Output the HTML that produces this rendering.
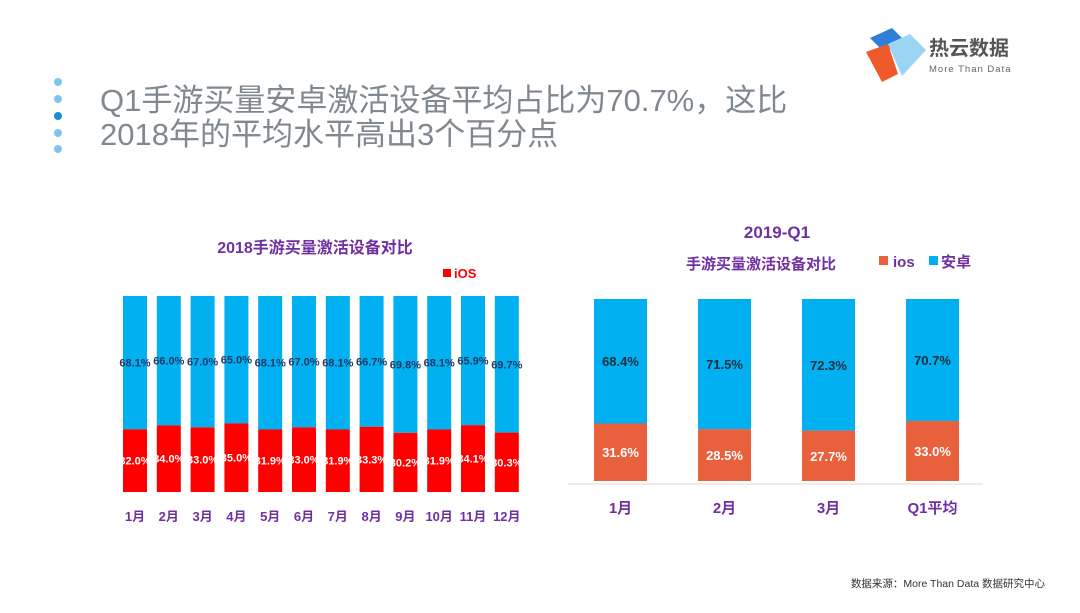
<!DOCTYPE html>
<html><head><meta charset="utf-8"><style>
body{margin:0;width:1080px;height:608px;background:#fff;overflow:hidden;font-family:"Liberation Sans","Noto Sans CJK SC",sans-serif;}
</style></head><body>
<svg width="1080" height="608" xmlns="http://www.w3.org/2000/svg" style="font-family:'Liberation Sans','Noto Sans CJK SC',sans-serif">
<g>
<circle cx="58" cy="82" r="4" fill="#7cc6ee"/><circle cx="58" cy="99" r="4" fill="#7cc6ee"/><circle cx="58" cy="116" r="4" fill="#1a8fd8"/><circle cx="58" cy="133" r="4" fill="#7cc6ee"/><circle cx="58" cy="149" r="4" fill="#7cc6ee"/>
</g>
<text x="100" y="111" font-size="31" fill="#808890">Q1手游买量安卓激活设备平均占比为70.7%，这比</text>
<text x="100" y="145" font-size="31" fill="#808890">2018年的平均水平高出3个百分点</text>
<g>
<polygon points="870,38 892,28 906,42 884,52" fill="#2f7fd6"/>
<polygon points="866,52 888,44 898,74 882,82" fill="#ef5a2a"/>
<polygon points="888,44 910,34 926,50 902,76" fill="#9ad6f4"/>
<text x="929" y="55" font-size="20" font-weight="bold" fill="#555">热云数据</text>
<text x="929" y="72" font-size="9.5" fill="#666" letter-spacing="1">More Than Data</text>
</g>
<text x="1045" y="587" font-size="10.5" fill="#333" text-anchor="end">数据来源：More Than Data 数据研究中心</text>
<g id="left"></g>
<g id="right"></g>
</svg>
<script>
const months2018 = ["1月","2月","3月","4月","5月","6月","7月","8月","9月","10月","11月","12月"];
const ios2018 = [32.0,34.0,33.0,35.0,31.9,33.0,31.9,33.3,30.2,31.9,34.1,30.3];
const android2018 = [68.1,66.0,67.0,65.0,68.1,67.0,68.1,66.7,69.8,68.1,65.9,69.7];
const cats2019 = ["1月","2月","3月","Q1平均"];
const ios2019 = [31.6,28.5,27.7,33.0];
const android2019 = [68.4,71.5,72.3,70.7];
const NS="http://www.w3.org/2000/svg";
function mk(p,tag,at,txt){const e=document.createElementNS(NS,tag);for(const k in at)e.setAttribute(k,at[k]);if(txt!==undefined)e.textContent=txt;p.appendChild(e);return e;}
const P="#7030a0";
const L=document.getElementById('left');
const lTop=296,lBot=492,lH=lBot-lTop;
const lx=i=>123+i*33.8, lw=24;
const ly=v=>lBot-v/100*lH;
let t=mk(L,'text',{x:315,y:253,'font-size':16,'font-weight':'bold',fill:P,'text-anchor':'middle'},"2018手游买量激活设备对比");


let r=mk(L,'rect',{x:443,y:269,width:8,height:8,fill:'#f00'});


t=mk(L,'text',{x:454,y:278,'font-size':13,'font-weight':'bold',fill:'#f00'},"iOS");


months2018.forEach((m,i)=>{
 const x=lx(i), yi=ly(ios2018[i]);
 let a=mk(L,'rect',{x:x,y:lTop,width:lw,height:yi-lTop,fill:'#00b0f0'});
 
 
 let b=mk(L,'rect',{x:x,y:yi,width:lw,height:lBot-yi,fill:'#ff0000'});
 
 
 let ta=mk(L,'text',{x:x+lw/2,y:(lTop+yi)/2+4,'font-size':11,'font-weight':'bold',fill:'#1f3864','text-anchor':'middle'},android2018[i].toFixed(1)+"%");
 
 
 let tb=mk(L,'text',{x:x+lw/2,y:(yi+lBot)/2+4,'font-size':11,'font-weight':'bold',fill:'#fff','text-anchor':'middle'},ios2018[i].toFixed(1)+"%");
 
 
 let tm=mk(L,'text',{x:x+lw/2,y:521,'font-size':13,'font-weight':'bold',fill:P,'text-anchor':'middle'},m);
 
 
});
const R=document.getElementById('right');
const rTop=299,rBot=481,rH=rBot-rTop;
const rx=i=>594+i*104, rw=53;
const ry=v=>rBot-v/100*rH;
t=mk(R,'text',{x:777,y:238,'font-size':17,'font-weight':'bold',fill:P,'text-anchor':'middle'},"2019-Q1");


t=mk(R,'text',{x:686,y:269,'font-size':15,'font-weight':'bold',fill:P},"手游买量激活设备对比");


r=mk(R,'rect',{x:879,y:256,width:9,height:9,fill:'#e8603c'});


t=mk(R,'text',{x:893,y:267,'font-size':15,'font-weight':'bold',fill:P},"ios");


r=mk(R,'rect',{x:929,y:256,width:9,height:9,fill:'#00b0f0'});


t=mk(R,'text',{x:941,y:267,'font-size':15,'font-weight':'bold',fill:P},"安卓");


let ax=mk(R,'line',{x1:568,y1:484,x2:983,y2:484,stroke:'#d9d9d9','stroke-width':1});


cats2019.forEach((c,i)=>{
 const x=rx(i), yi=ry(ios2019[i]);
 let a=mk(R,'rect',{x:x,y:rTop,width:rw,height:yi-rTop,fill:'#00b0f0'});
 
 
 let b=mk(R,'rect',{x:x,y:yi,width:rw,height:rBot-yi,fill:'#e8603c'});
 
 
 let ta=mk(R,'text',{x:x+rw/2,y:(rTop+yi)/2+5,'font-size':13,'font-weight':'bold',fill:'#1f2d3d','text-anchor':'middle'},android2019[i].toFixed(1)+"%");
 
 
 let tb=mk(R,'text',{x:x+rw/2,y:(yi+rBot)/2+5,'font-size':13,'font-weight':'bold',fill:'#fff','text-anchor':'middle'},ios2019[i].toFixed(1)+"%");
 
 
 let tm=mk(R,'text',{x:x+rw/2,y:513,'font-size':15,'font-weight':'bold',fill:P,'text-anchor':'middle'},c);
 
 
});
</script>
</body></html>
